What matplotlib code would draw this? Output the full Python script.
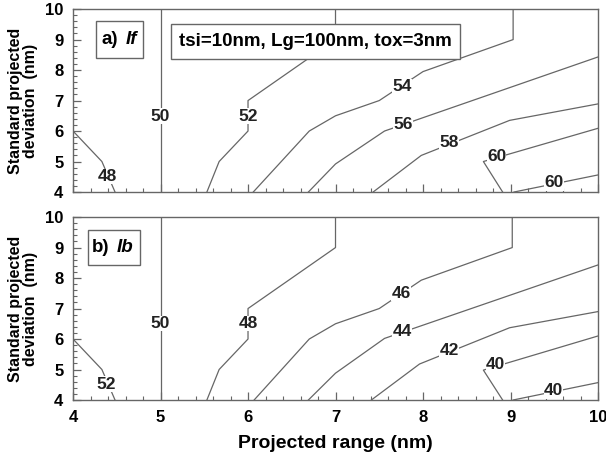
import matplotlib
matplotlib.use("Agg")
import matplotlib.pyplot as plt
from matplotlib.patches import Rectangle
from matplotlib.ticker import MultipleLocator

plt.rcParams['font.family'] = ['Liberation Sans', 'DejaVu Sans']
plt.rcParams['font.weight'] = 'bold'

# contour paths, panel a) If
top_x = [[4.0, 4.33, 4.48],
         [5.0, 5.0],
         [5.53, 5.67, 6.0, 6.0, 7.0, 7.0],
         [6.06, 6.7, 7.0, 7.5, 8.0, 9.03, 9.03],
         [6.69, 7.0, 7.56, 10.0],
         [7.43, 7.98, 8.99, 10.0],
         [8.91, 8.69, 10.0],
         [9.04, 10.0]]
top_y = [[6.0, 5.0, 4.0],
         [4.0, 10.0],
         [4.0, 5.0, 6.0, 7.0, 9.0, 10.0],
         [4.0, 6.0, 6.5, 7.0, 7.95, 9.0, 10.0],
         [4.0, 4.92, 6.0, 8.43],
         [4.0, 5.2, 6.35, 6.89],
         [4.0, 5.0, 6.09],
         [4.0, 4.56]]
top_lab = ['48', '50', '52', '54', '56', '58', '60', '60']
top_lx = [4.39, 5.0, 6.0, 7.76, 7.77, 8.3, 8.84, 9.5]
top_ly = [4.5, 6.49, 6.49, 7.45, 6.23, 5.62, 5.16, 4.3]

# panel b) Ib
bot_x = [[4.0, 4.33, 4.48],
         [5.0, 5.0],
         [5.53, 5.67, 6.0, 6.0, 7.0, 7.0],
         [6.07, 6.7, 7.0, 7.5, 7.98, 9.02, 9.02],
         [6.69, 7.0, 7.56, 10.0],
         [7.41, 7.96, 8.99, 10.0],
         [8.91, 8.69, 10.0],
         [9.03, 10.0]]
bot_y = [[6.0, 5.0, 4.0],
         [4.0, 10.0],
         [4.0, 5.0, 6.0, 7.0, 9.0, 10.0],
         [4.0, 6.0, 6.5, 7.0, 7.93, 9.0, 10.0],
         [4.0, 4.88, 6.02, 8.43],
         [4.0, 5.18, 6.37, 6.9],
         [4.0, 4.98, 6.1],
         [4.0, 4.57]]
bot_lab = ['52', '50', '48', '46', '44', '42', '40', '40']
bot_lx = [4.38, 5.0, 6.0, 7.75, 7.76, 8.3, 8.83, 9.49]
bot_ly = [4.52, 6.5, 6.5, 7.5, 6.24, 5.62, 5.18, 4.3]

lcol = '#666666'

fig = plt.figure(figsize=(6.06, 4.55), dpi=100)
ax1 = fig.add_axes([0.1205, 0.578, 0.8663, 0.402])
ax2 = fig.add_axes([0.1205, 0.1209, 0.8663, 0.402])


def draw_panel(ax, xs, ys, labs, lx, ly):
    for x, y in zip(xs, ys):
        ax.plot(x, y, color=lcol, lw=0.9)
    for t, x, y in zip(labs, lx, ly):
        ax.text(x, y, t, fontsize=12.5, fontweight='bold', ha='center', va='center',
                color='#222222',
                bbox=dict(fc='white', ec='none', pad=0.1))
    ax.set_xlim(4, 10)
    ax.set_ylim(4, 10)
    ax.xaxis.set_major_locator(MultipleLocator(1))
    ax.xaxis.set_minor_locator(MultipleLocator(0.2))
    ax.yaxis.set_major_locator(MultipleLocator(1))
    ax.yaxis.set_minor_locator(MultipleLocator(0.2))
    ax.tick_params(which='major', direction='in', length=6, width=0.9,
                   color=lcol, labelsize=12, top=False, right=False)
    ax.tick_params(axis='x', which='major', pad=7)
    ax.tick_params(axis='y', which='major', pad=7)
    ax.tick_params(which='minor', direction='in', length=3, width=0.8,
                   color=lcol, top=False, right=False)
    for s in ax.spines.values():
        s.set_color(lcol)
        s.set_linewidth(1.0)
    for lbl in ax.get_xticklabels() + ax.get_yticklabels():
        lbl.set_fontweight('bold')
    ax.set_ylabel('Standard projected\ndeviation  (nm)', fontsize=11.5,
                  fontweight='bold', linespacing=1.0)
    ax.yaxis.set_label_coords(-0.066, 0.5)


draw_panel(ax1, top_x, top_y, top_lab, top_lx, top_ly)
draw_panel(ax2, bot_x, bot_y, bot_lab, bot_lx, bot_ly)
ax1.tick_params(labelbottom=False)

# boxed annotations
for ax, (x0, y0, x1, y1) in [(ax1, (0.0438, 0.7306, 0.1328, 0.934)),
                             (ax1, (0.1867, 0.727, 0.7366, 0.918)),
                             (ax2, (0.029, 0.738, 0.1276, 0.929))]:
    ax.add_patch(Rectangle((x0, y0), x1 - x0, y1 - y0, transform=ax.transAxes,
                           fc='white', ec=lcol, lw=1.0, zorder=3))

ax1.text(0.054, 0.835, 'a)', transform=ax1.transAxes, fontsize=13.5,
         fontweight='bold', va='center', zorder=4)
ax1.text(0.100, 0.835, 'If', transform=ax1.transAxes, fontsize=13.5,
         fontweight='bold', style='italic', va='center', zorder=4)
ax1.text(0.461, 0.822, 'tsi=10nm, Lg=100nm, tox=3nm', transform=ax1.transAxes,
         fontsize=13.5, fontweight='bold', ha='center', va='center', zorder=4)
ax2.text(0.036, 0.834, 'b)', transform=ax2.transAxes, fontsize=13.5,
         fontweight='bold', va='center', zorder=4)
ax2.text(0.083, 0.834, 'Ib', transform=ax2.transAxes, fontsize=13.5,
         fontweight='bold', style='italic', va='center', zorder=4)

ax2.set_xlabel('Projected range (nm)', fontsize=14, fontweight='bold')
ax2.xaxis.set_label_coords(0.5, -0.19)

fig.savefig('out.png', dpi=100)
